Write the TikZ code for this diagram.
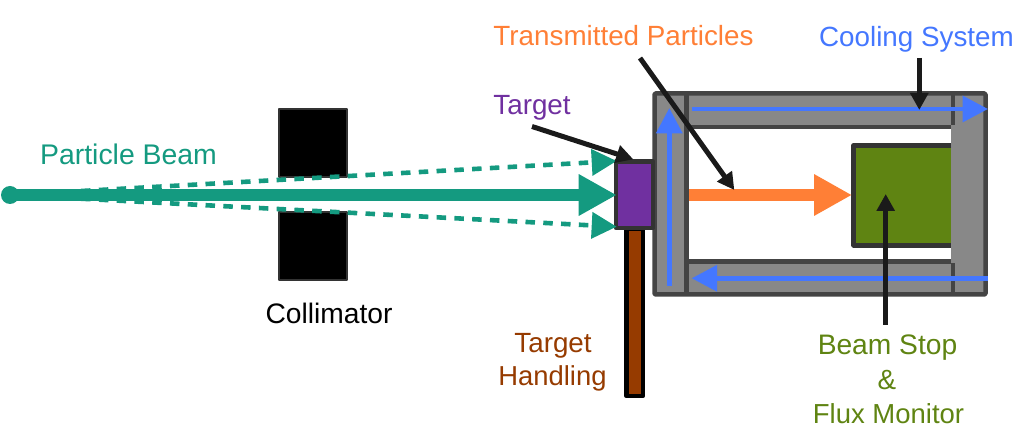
\documentclass[tikz,border=0pt]{standalone}
\usepackage{fontspec}
\setmainfont{Liberation Sans}
\usetikzlibrary{arrows.meta}
\definecolor{beamc}{HTML}{149A80}
\definecolor{targetc}{HTML}{7030A0}
\definecolor{handc}{HTML}{963B00}
\definecolor{orangec}{HTML}{FF7F36}
\definecolor{bluec}{HTML}{4477FF}
\definecolor{greenc}{HTML}{5F8412}
\definecolor{wallc}{HTML}{888888}
\definecolor{edgec}{HTML}{444444}
\definecolor{edgeb}{HTML}{333333}
\definecolor{pointc}{HTML}{1A1A1A}
\tikzset{
  x=1pt,y=-1pt,
  lbl/.style={font=\fontsize{#1}{33}\selectfont,inner sep=0pt,anchor=base},
  lbl/.default=27.8,
  box/.style={rectangle,inner sep=0pt,outer sep=0pt,line join=round},
  wallline/.style={draw=edgec,line width=4.5pt},
  bluearrow/.style={draw=bluec,line width=4.6pt,-{Triangle[length=25.5pt,width=25.7pt]}},
  pointer/.style={draw=pointc,line width=5pt,-{Triangle[length=17pt,width=17.5pt]}},
  beamfat/.style={line width=12.6pt,-{Triangle[length=38pt,width=39pt]}},
  beamthin/.style={draw=beamc,line width=4.6pt,dash pattern=on 9.5pt off 8.3pt,-{Triangle[length=25pt,width=25.7pt]}},
}
\begin{document}
\begin{tikzpicture}
\useasboundingbox (0,0) rectangle (1020,435);
% collimator
\node[box,draw=edgeb,fill=black,line width=2pt,minimum width=68pt,minimum height=68pt] (colup) at (313,143) {};
\node[box,draw=edgeb,fill=black,line width=2pt,minimum width=68pt,minimum height=68pt] (collow) at (313,246.5) {};
% housing
\node[box,draw=edgec,fill=wallc,line width=4.5pt,minimum width=331pt,minimum height=201pt,rounded corners=1pt] (housing) at (820,194) {};
\node[box,fill=white,minimum width=262pt,minimum height=130pt] (bore) at (820,194) {};
\coordinate (ltop) at (686.7,93.5); \coordinate (lbot) at (686.7,294.5);
\coordinate (rtop) at (953,93.5); \coordinate (rbot) at (953,294.5);
\coordinate (rup) at (953,125); \coordinate (rlow) at (953,263.5);
\coordinate (bupl) at (686.7,127); \coordinate (bupr) at (951,127);
\coordinate (blol) at (686.7,261.5); \coordinate (blor) at (951,261.5);
\draw[wallline] (ltop) -- (lbot);
\draw[wallline] (rtop) -- (rup);
\draw[wallline] (rlow) -- (rbot);
\draw[wallline] (bupl) -- (bupr);
\draw[wallline] (blol) -- (blor);
% beam stop
\node[box,fill=greenc,minimum width=97pt,minimum height=100pt] (stop) at (902.5,195.3) {};
\coordinate (stoptr) at (951,145.3); \coordinate (stoptl) at (853.7,145.3);
\coordinate (stopbl) at (853.7,245.3); \coordinate (stopbr) at (951,245.3);
\draw[draw=edgeb,line width=4.5pt,line join=round] (stoptr) -- (stoptl) -- (stopbl) -- (stopbr);
% handling
\node[box,draw=black,fill=handc,line width=4.5pt,minimum width=16.3pt,minimum height=167pt] (handle) at (634.6,312.5) {};
% target
\node[box,draw=edgeb,fill=targetc,line width=4.5pt,minimum width=37pt,minimum height=66.3pt] (target) at (634.5,194.8) {};
% beam
\coordinate (src) at (10,195);
\coordinate (tipup) at (616.7,161);
\coordinate (tipmid) at (616.7,195);
\coordinate (tiplow) at (616.7,226.7);
\node[circle,fill=beamc,inner sep=0pt,minimum size=18pt] (srcdot) at (src) {};
\draw[beamthin] (src) -- (tipup);
\draw[beamthin] (src) -- (tiplow);
\draw[beamfat,draw=beamc] (src) -- (tipmid);
% orange
\coordinate (orst) at (689,195); \coordinate (ortip) at (852,195);
\draw[beamfat,draw=orangec] (orst) -- (ortip);
% coolant
\coordinate (cvs) at (669.3,285.7); \coordinate (cvt) at (669.3,108);
\coordinate (cts) at (691.7,109); \coordinate (ctt) at (988,109);
\coordinate (cbs) at (988,278.3); \coordinate (cbt) at (691.7,278.3);
\draw[bluearrow] (cvs) -- (cvt);
\draw[bluearrow] (cts) -- (ctt);
\draw[bluearrow] (cbs) -- (cbt);
% pointers
\coordinate (pa1) at (532,126.5); \coordinate (pa2) at (633.3,159.3);
\coordinate (pb1) at (640,58); \coordinate (pb2) at (734.3,190);
\coordinate (pc1) at (919.3,58); \coordinate (pc2) at (919.3,110);
\coordinate (pd1) at (885.7,325); \coordinate (pd2) at (885.7,194);
\draw[pointer] (pa1) -- (pa2);
\draw[pointer] (pb1) -- (pb2);
\draw[pointer] (pc1) -- (pc2);
\draw[pointer] (pd1) -- (pd2);
% labels
\node[lbl=28.4,text=beamc] (lbeam) at (128.5,165) {Particle Beam};
\node[lbl=28.2,text=black] (lcoll) at (329,324) {Collimator};
\node[lbl,text=targetc] (ltarget) at (532,114.5) {Target};
\node[lbl,text=orangec] (ltrans) at (623.5,46) {Transmitted Particles};
\node[lbl,text=bluec] (lcool) at (916.5,47) {Cooling System};
\node[lbl,text=handc] (lh1) at (553,353) {Target};
\node[lbl=27.4,text=handc] (lh2) at (552.5,386) {Handling};
\node[lbl=28.2,text=greenc] (ls1) at (887.5,355) {Beam Stop};
\node[lbl,text=greenc] (ls2) at (887,390) {\&};
\node[lbl=27.5,text=greenc] (ls3) at (888.5,423) {Flux Monitor};
\end{tikzpicture}
\end{document}
